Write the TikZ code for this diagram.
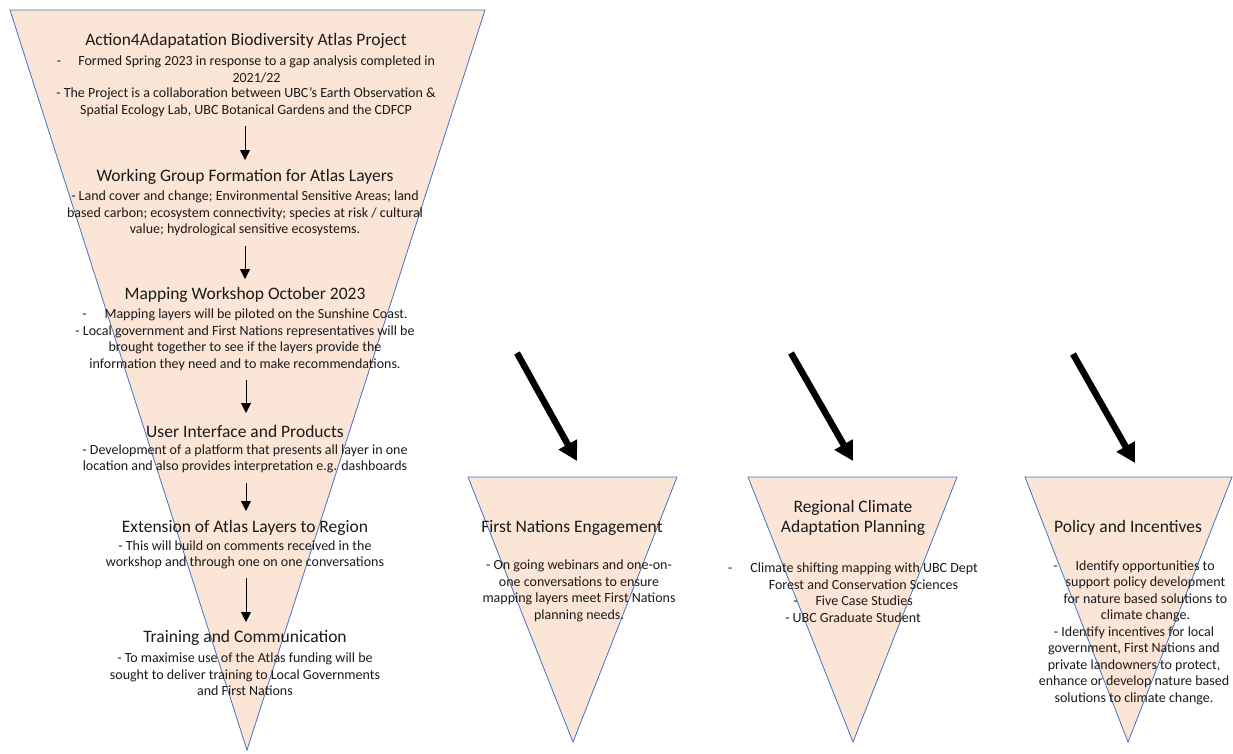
\documentclass[tikz,border=0pt]{standalone}
\usepackage{fontspec}
\setmainfont{Carlito}
\usetikzlibrary{arrows.meta}
\definecolor{peach}{HTML}{FBE5D6}
\definecolor{edgeblue}{HTML}{4472C4}
\definecolor{txt}{HTML}{1A1A1A}
\tikzset{
  tri/.style={fill=peach, draw=edgeblue, line width=0.8pt, line join=miter},
  ttl/.style={font=\fontsize{17.5}{20}\selectfont, text=txt, align=center, inner sep=0pt},
  bdy/.style={font=\fontsize{14}{16.5}\selectfont, text=txt, align=center, inner sep=0pt},
  thin arrow/.style={draw=black, line width=0.9pt, -{Triangle[width=10pt,length=10pt]}},
  big arrow/.style={draw=black, line width=6.5pt, -{Triangle[width=20pt,length=19pt]}, shorten >=0pt}
}
\begin{document}
\begin{tikzpicture}[x=1pt,y=-1pt]
\useasboundingbox (0,0) rectangle (1233,753);
% triangles
\coordinate (A1) at (10,10); \coordinate (A2) at (485,10); \coordinate (A3) at (247,750);
\coordinate (B1) at (468,477); \coordinate (B2) at (677,477); \coordinate (B3) at (573,742);
\coordinate (C1) at (748,477); \coordinate (C2) at (957,477); \coordinate (C3) at (853,742);
\coordinate (D1) at (1025,477); \coordinate (D2) at (1232,477); \coordinate (D3) at (1128,742);
\path[tri] (A1) -- (A2) -- (A3) -- cycle;
\path[tri] (B1) -- (B2) -- (B3) -- cycle;
\path[tri] (C1) -- (C2) -- (C3) -- cycle;
\path[tri] (D1) -- (D2) -- (D3) -- cycle;

% main triangle texts
\node[ttl] (t1) at (246,41) {Action4Adapatation Biodiversity Atlas Project};
\node[bdy] (b1a) at (246,69.5) {-\hspace{17pt}Formed Spring 2023 in response to a gap analysis completed in\\\hspace*{21pt}2021/22};
\node[bdy] (b1b) at (246,102.5) {- The Project is a collaboration between UBC’s Earth Observation \&\\Spatial Ecology Lab, UBC Botanical Gardens and the CDFCP};

\node[ttl] (t2) at (245,177) {Working Group Formation for Atlas Layers};
\node[bdy] (b2) at (245,213.5) {- Land cover and change; Environmental Sensitive Areas; land\\based carbon; ecosystem connectivity; species at risk / cultural\\value; hydrological sensitive ecosystems.};

\node[ttl] (t3) at (245,295) {Mapping Workshop October 2023};
\node[bdy] (b3) at (245,340) {-\hspace{18pt}Mapping layers will be piloted on the Sunshine Coast.\\- Local government and First Nations representatives will be\\brought together to see if the layers provide the\\information they need and to make recommendations.};

\node[ttl] (t4) at (245,431) {User Interface and Products};
\node[bdy] (b4) at (245,459) {- Development of a platform that presents all layer in one\\location and also provides interpretation e.g. dashboards};

\node[ttl] (t5) at (245,528) {Extension of Atlas Layers to Region};
\node[bdy] (b5) at (245,555) {- This will build on comments received in the\\workshop and through one on one conversations};

\node[ttl] (t6) at (245,638) {Training and Communication};
\node[bdy] (b6) at (245,674.5) {- To maximise use of the Atlas funding will be\\sought to deliver training to Local Governments\\and First Nations};

% thin arrows
\coordinate (s1) at (245,126); \coordinate (e1) at (245,160);
\coordinate (s2) at (245,246); \coordinate (e2) at (245,279);
\coordinate (s3) at (246,380); \coordinate (e3) at (246,413);
\coordinate (s4) at (246,483); \coordinate (e4) at (246,511);
\coordinate (s5) at (246,578); \coordinate (e5) at (246,622);
\draw[thin arrow] (s1) -- (e1);
\draw[thin arrow] (s2) -- (e2);
\draw[thin arrow] (s3) -- (e3);
\draw[thin arrow] (s4) -- (e4);
\draw[thin arrow] (s5) -- (e5);

% small triangles texts
\node[ttl] (tf) at (572,528) {First Nations Engagement};
\node[bdy] (bf) at (579,591) {- On going webinars and one-on-\\one conversations to ensure\\mapping layers meet First Nations\\planning needs.};

\node[ttl] (tr) at (853,518) {Regional Climate\\Adaptation Planning};
\node[bdy] (br) at (853,592.5) {-\hspace{18pt}Climate shifting mapping with UBC Dept\\\hspace*{21pt}Forest and Conservation Sciences\\-\hspace{18pt}Five Case Studies\\- UBC Graduate Student};

\node[ttl] (tp) at (1128,528) {Policy and Incentives};
\node[bdy] (bp) at (1134,632.5) {-\hspace{18pt}Identify opportunities to\\\hspace*{23pt}support policy development\\\hspace*{23pt}for nature based solutions to\\\hspace*{23pt}climate change.\\- Identify incentives for local\\government, First Nations and\\private landowners to protect,\\enhance or develop nature based\\solutions to climate change.};

% big arrows
\coordinate (g1) at (517,353); \coordinate (h1) at (577,461);
\coordinate (g2) at (791,353); \coordinate (h2) at (853,461);
\coordinate (g3) at (1073,354); \coordinate (h3) at (1135,463);
\draw[big arrow] (g1) -- (h1);
\draw[big arrow] (g2) -- (h2);
\draw[big arrow] (g3) -- (h3);
\end{tikzpicture}
\end{document}
